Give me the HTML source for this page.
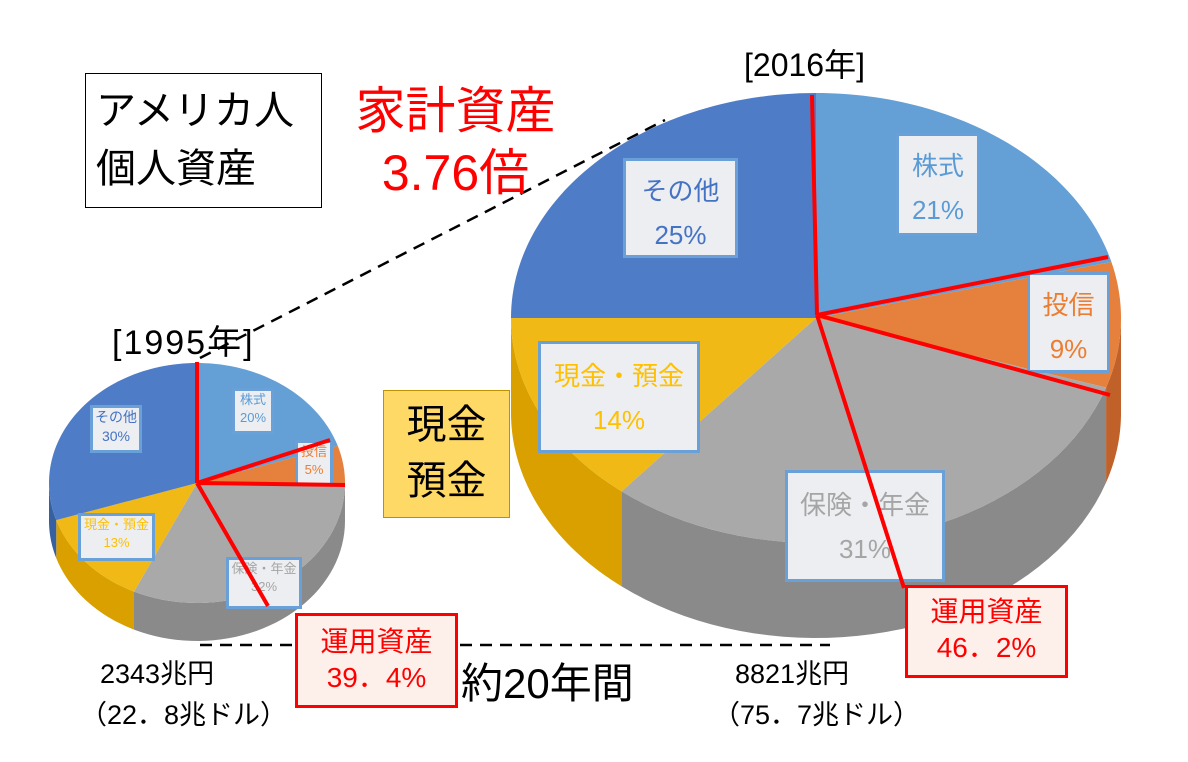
<!DOCTYPE html>
<html><head><meta charset="utf-8">
<style>
body{margin:0;background:#fff;}
#wrap{position:relative;width:1188px;height:762px;overflow:hidden;font-family:"Liberation Sans","Noto Sans CJK JP",sans-serif;}
.abs{position:absolute;white-space:nowrap;}
.lbl{position:absolute;background:#eceef1;border:3px solid #6aa0d8;text-align:center;box-sizing:border-box;line-height:1.35;}
.red{position:absolute;border:3px solid #f00;background:#fdf0ea;color:#f00;text-align:center;box-sizing:border-box;font-size:28px;line-height:1.3;}
</style></head><body>
<div id="wrap">
<svg id="svg" width="1188" height="762" style="position:absolute;left:0;top:0">
  <line x1="200" y1="358" x2="665" y2="120" stroke="#000" stroke-width="2.5" stroke-dasharray="12,8"/>
  <line x1="200" y1="645" x2="830" y2="645" stroke="#000" stroke-width="2.5" stroke-dasharray="12,8"/>
  <g id="pies"></g>
</svg>

<div class="abs" style="left:85px;top:73px;width:237px;height:135px;border:1.5px solid #000;box-sizing:border-box;font-size:40px;line-height:58px;padding:8px 0 0 10px;">アメリカ人<br>個人資産</div>
<div class="abs" style="left:343px;top:80px;font-size:50px;color:#f00;line-height:62px;text-align:center;width:225px;">家計資産<br>3.76倍</div>
<div class="abs" style="left:744px;top:40px;font-size:32px;">[2016年]</div>
<div class="abs" style="left:112px;top:315px;font-size:34px;letter-spacing:2px;">[1995年]</div>
<div class="abs" style="left:383px;top:390px;width:127px;height:128px;background:#ffd966;border:1px solid #bf9000;box-sizing:border-box;font-size:40px;line-height:56px;text-align:center;padding-top:6px;">現金<br>預金</div>

<div class="lbl" style="left:232px;top:388px;width:42px;height:46px;font-size:13px;color:#5b9bd5;">株式<br>20%</div>
<div class="lbl" style="left:295px;top:440px;width:38px;height:46px;font-size:13px;color:#ed7d31;">投信<br>5%</div>
<div class="lbl" style="left:90px;top:405px;width:52px;height:48px;font-size:14px;color:#4472c4;">その他<br>30%</div>
<div class="lbl" style="left:78px;top:513px;width:77px;height:48px;font-size:13px;color:#ffc000;">現金・預金<br>13%</div>
<div class="lbl" style="left:226px;top:557px;width:76px;height:52px;font-size:13px;color:#a5a5a5;">保険・年金<br>32%</div>

<div class="lbl" style="left:896px;top:133px;width:84px;height:103px;font-size:26px;color:#5b9bd5;padding-top:8px;line-height:44px;">株式<br>21%</div>
<div class="lbl" style="left:1027px;top:272px;width:83px;height:101px;font-size:26px;color:#ed7d31;padding-top:8px;line-height:44px;">投信<br>9%</div>
<div class="lbl" style="left:623px;top:158px;width:115px;height:100px;font-size:26px;color:#4472c4;padding-top:8px;line-height:44px;">その他<br>25%</div>
<div class="lbl" style="left:538px;top:341px;width:162px;height:112px;font-size:26px;color:#ffc000;padding-top:10px;line-height:44px;">現金・預金<br>14%</div>
<div class="lbl" style="left:785px;top:470px;width:160px;height:112px;font-size:26px;color:#a5a5a5;padding-top:10px;line-height:44px;">保険・年金<br>31%</div>

<svg width="1188" height="762" style="position:absolute;left:0;top:0">
  <g stroke="#f00" stroke-width="4" fill="none">
    <line x1="197" y1="483" x2="197" y2="362"/>
    <line x1="197" y1="483" x2="330" y2="440"/>
    <line x1="197" y1="483" x2="345" y2="485"/>
    <line x1="197" y1="483" x2="268" y2="606"/>
    <line x1="817" y1="315" x2="812" y2="95"/>
    <line x1="817" y1="315" x2="1108" y2="257"/>
    <line x1="817" y1="315" x2="1110" y2="395"/>
    <line x1="817" y1="315" x2="904" y2="588"/>
  </g>
</svg>

<div class="red" style="left:295px;top:613px;width:163px;height:95px;padding-top:8px;">運用資産<br>39．4%</div>
<div class="red" style="left:905px;top:585px;width:163px;height:93px;padding-top:6px;">運用資産<br>46．2%</div>

<div class="abs" style="left:461px;top:650px;font-size:42px;">約20年間</div>
<div class="abs" style="left:100px;top:652px;font-size:27px;">2343兆円</div>
<div class="abs" style="left:80px;top:693px;font-size:27px;">（22．8兆ドル）</div>
<div class="abs" style="left:735px;top:652px;font-size:27px;">8821兆円</div>
<div class="abs" style="left:713px;top:693px;font-size:27px;">（75．7兆ドル）</div>
</div>

<script>
const categories = ["株式","投信","保険・年金","現金・預金","その他"];
const values1995 = [20,5,32,13,30];
const values2016 = [21,9,31,14,25];
const topColors = ["#649fd6","#e5803d","#a9a9a9","#f0b915","#4f7cc6"];
const sideColors = ["#4a82b8","#c0612a","#8a8a8a","#d9a000","#36609f"];

const g = document.getElementById('pies');
const NS = "http://www.w3.org/2000/svg";
function pt(cx,cy,rx,ry,a){return [cx+rx*Math.sin(a), cy-ry*Math.cos(a)];}
function drawPie(name,cx,cy,rx,ry,depth,vals){
  const total = vals.reduce((s,v)=>s+v,0);
  const angs=[0]; let acc=0;
  vals.forEach(v=>{acc+=v; angs.push(acc/total*2*Math.PI);});
  // sides
  vals.forEach((v,i)=>{
    const a0=Math.max(angs[i],Math.PI/2), a1=Math.min(angs[i+1],Math.PI*1.5);
    if(a1<=a0) return;
    const N=40, top=[], bot=[];
    for(let k=0;k<=N;k++){const a=a0+(a1-a0)*k/N; const p=pt(cx,cy,rx,ry,a); top.push(p); bot.push([p[0],p[1]+depth]);}
    const d="M"+top.map(p=>p.join(",")).join("L")+"L"+bot.reverse().map(p=>p.join(",")).join("L")+"Z";
    const path=document.createElementNS(NS,"path");
    path.setAttribute("d",d); path.setAttribute("fill",sideColors[i]);
    
    
    g.appendChild(path);
  });
  // tops
  vals.forEach((v,i)=>{
    const a0=angs[i], a1=angs[i+1], N=60; let d="M"+cx+","+cy;
    for(let k=0;k<=N;k++){const p=pt(cx,cy,rx,ry,a0+(a1-a0)*k/N); d+="L"+p[0]+","+p[1];}
    d+="Z";
    const path=document.createElementNS(NS,"path");
    path.setAttribute("d",d); path.setAttribute("fill",topColors[i]);
    
    
    g.appendChild(path);
  });
}
drawPie("pie-1995",197,483,148,120,38,values1995);
drawPie("pie-2016",816,318,305,225,95,values2016);
</script>
</body></html>
